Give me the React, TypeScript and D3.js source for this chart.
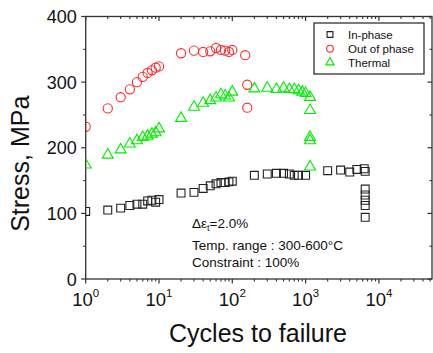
import * as d3 from 'd3';

// In-phase (squares)
const inPhaseN = [1, 2, 3, 4, 5, 6, 7, 8, 9, 10, 20, 30, 40, 50, 60, 70, 80, 90, 100, 200, 300, 400, 500, 600, 700, 800, 1000, 2000, 3000, 4000, 5000, 6300, 6500, 6500, 6500, 6500, 6500, 6500];
const inPhaseS = [103, 105, 108, 112, 114, 114, 119, 120, 117, 121, 131, 132, 138, 142, 145, 147, 147, 148, 149, 158, 160, 161, 161, 160, 158, 158, 158, 165, 166, 163, 167, 168, 164, 137, 128, 120, 112, 94];

// Out of phase (circles)
const outPhaseN = [1, 2, 3, 4, 5, 6, 7, 8, 9, 10, 20, 30, 40, 50, 60, 70, 80, 90, 100, 150, 160, 160];
const outPhaseS = [232, 260, 277, 289, 300, 308, 314, 318, 322, 324, 344, 348, 346, 347, 352, 349, 348, 346, 349, 341, 296, 261];

// Thermal (triangles)
const thermalN = [1, 2, 3, 4, 5, 6, 7, 8, 9, 10, 20, 30, 40, 50, 60, 70, 80, 90, 100, 200, 300, 400, 500, 600, 700, 800, 900, 1000, 1150, 1150, 1150, 1150, 1150];
const thermalS = [174, 189, 197, 206, 211, 216, 218, 221, 223, 229, 245, 262, 268, 272, 276, 281, 279, 276, 285, 290, 291, 289, 291, 289, 289, 287, 285, 283, 277, 257, 216, 211, 171];

const yTicks = [0, 100, 200, 300, 400];
const yMinor = [50, 150, 250, 350];
const xDecades = [0, 1, 2, 3, 4];

const W = 433;
const H = 353;
const left = 85.7;
const right = 432;
const top = 16.5;
const bottom = 279;

const font = 'Liberation Sans, Arial, sans-serif';
const axisColor = '#333';

export default function App() {
  const x = d3.scaleLog().domain([1, Math.pow(10, (right - left) / 73.3)]).range([left, right]);
  const y = d3.scaleLinear().domain([0, 400]).range([bottom, top]);

  const xMinor: number[] = [];
  xDecades.forEach(d => {
    for (let k = 2; k <= 9; k++) {
      const v = k * Math.pow(10, d);
      if (x(v) < right - 0.5) xMinor.push(v);
    }
  });

  const square = d3.symbol(d3.symbolSquare, 62)();
  const tri = d3.symbol(d3.symbolTriangle, 52)();
  const squareL = d3.symbol(d3.symbolSquare, 34)();
  const triL = d3.symbol(d3.symbolTriangle, 30)();

  return (
    <svg width={W} height={H} style={{ position: 'absolute', left: 0, top: 0, background: '#fff' }} fontFamily={font}>
      <defs>
        <clipPath id="plot">
          <rect x={left} y={top} width={right - left} height={bottom - top} />
        </clipPath>
      </defs>

      {/* frame */}
      <rect x={left} y={top} width={right - left} height={bottom - top} fill="none" stroke={axisColor} strokeWidth={1.3} />

      {/* y ticks left (out) and right (in) */}
      {yTicks.map(t => (
        <g key={'y' + t}>
          <line x1={left - 4.5} x2={left} y1={y(t)} y2={y(t)} stroke={axisColor} strokeWidth={1.2} />
          <line x1={right} x2={right - 4.5} y1={y(t)} y2={y(t)} stroke={axisColor} strokeWidth={1.2} />
          <text x={left - 9} y={y(t) + 6.5} textAnchor="end" fontSize={18} fill="#111">{t}</text>
        </g>
      ))}
      {yMinor.map(t => (
        <g key={'ym' + t}>
          <line x1={left - 2.5} x2={left} y1={y(t)} y2={y(t)} stroke={axisColor} strokeWidth={1.1} />
          <line x1={right} x2={right - 2.5} y1={y(t)} y2={y(t)} stroke={axisColor} strokeWidth={1.1} />
        </g>
      ))}

      {/* x ticks bottom (out) and top (in) */}
      {xDecades.map(d => {
        const px = x(Math.pow(10, d));
        return (
          <g key={'x' + d}>
            <line x1={px} x2={px} y1={bottom} y2={bottom + 4.5} stroke={axisColor} strokeWidth={1.2} />
            <line x1={px} x2={px} y1={top} y2={top + 4.5} stroke={axisColor} strokeWidth={1.2} />
            <text x={px} y={306} textAnchor="middle" fontSize={18.5} fill="#111">
              10<tspan dy={-9.5} fontSize={11.5}>{d}</tspan>
            </text>
          </g>
        );
      })}
      {xMinor.map(v => (
        <g key={'xm' + v}>
          <line x1={x(v)} x2={x(v)} y1={bottom} y2={bottom + 2.5} stroke={axisColor} strokeWidth={1.1} />
          <line x1={x(v)} x2={x(v)} y1={top} y2={top + 2.5} stroke={axisColor} strokeWidth={1.1} />
        </g>
      ))}

      {/* axis titles */}
      <text x={258} y={342} textAnchor="middle" fontSize={25} fill="#111">Cycles to failure</text>
      <text transform={`translate(29,${(top + bottom) / 2 + 16}) rotate(-90)`} textAnchor="middle" fontSize={25} fill="#111">Stress, MPa</text>

      {/* data */}
      <g clipPath="url(#plot)" fill="none" strokeWidth={1.1}>
        {inPhaseN.map((n, i) => (
          <path key={'s' + i} d={square} transform={`translate(${x(n)},${y(inPhaseS[i])})`} stroke="#222" />
        ))}
        {outPhaseN.map((n, i) => (
          <circle key={'c' + i} cx={x(n)} cy={y(outPhaseS[i])} r={4.6} stroke="#ff2a2a" />
        ))}
        {thermalN.map((n, i) => (
          <path key={'t' + i} d={tri} transform={`translate(${x(n)},${y(thermalS[i])})`} stroke="#00ee00" />
        ))}
      </g>

      {/* annotations */}
      <text x={192} y={228} fontSize={13.5} fill="#111">
        Δε<tspan dy={3} fontSize={9}>t</tspan><tspan dy={-3}>=2.0%</tspan>
      </text>
      <text x={192} y={250} fontSize={13.5} fill="#111">Temp. range : 300-600°C</text>
      <text x={192} y={266.5} fontSize={13.5} fill="#111">Constraint : 100%</text>

      {/* legend */}
      <rect x={314} y={23} width={110} height={51} fill="#fff" stroke="#222" strokeWidth={1.2} />
      <path d={squareL} transform="translate(330,34.5)" fill="none" stroke="#222" strokeWidth={1.1} />
      <circle cx={330} cy={48.7} r={3.4} fill="none" stroke="#ff2a2a" strokeWidth={1.1} />
      <path d={triL} transform="translate(330,62.5)" fill="none" stroke="#00ee00" strokeWidth={1.1} />
      <text x={348} y={38.5} fontSize={11.5} fill="#111">In-phase</text>
      <text x={348} y={52.5} fontSize={11.5} fill="#111">Out of phase</text>
      <text x={348} y={66.5} fontSize={11.5} fill="#111">Thermal</text>
    </svg>
  );
}
